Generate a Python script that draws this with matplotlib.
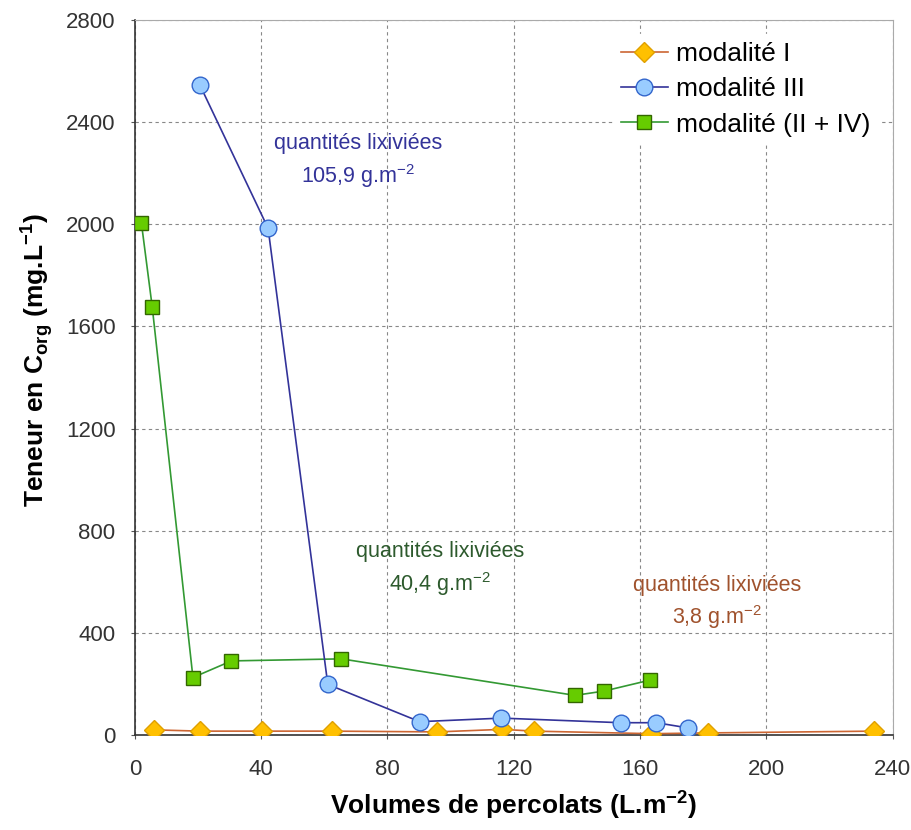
import matplotlib.pyplot as plt

plt.rcParams['font.family'] = ['Liberation Sans', 'DejaVu Sans']

# modalité I
x_mod1 = [6.0, 20.6, 40.4, 62.3, 95.8, 116.4, 126.4, 163.6, 181.4, 234.0]
y_mod1 = [20, 15, 15, 15, 12, 22, 15, 5, 8, 15]

# modalité III
x_mod3 = [20.6, 42.2, 61.1, 90.2, 116.1, 153.8, 165.1, 175.0]
y_mod3 = [2545, 1984, 198, 52, 66, 48, 48, 28]

# modalité (II + IV)
x_mod24 = [2.1, 5.5, 18.4, 30.6, 65.4, 139.4, 148.6, 163.2]
y_mod24 = [2003, 1677, 225, 290, 298, 155, 172, 215]

x_ticks = [0, 40, 80, 120, 160, 200, 240]
y_ticks = [0, 400, 800, 1200, 1600, 2000, 2400, 2800]

fig = plt.figure(figsize=(9.11, 8.3), dpi=100)
ax = fig.add_axes([0.148, 0.1145, 0.832, 0.8615])

ax.plot(x_mod1, y_mod1, color='#cc6633', linewidth=1.2, marker='D', markersize=10,
        markerfacecolor='#ffc000', markeredgecolor='#e0a000', label='modalité I', zorder=3)
ax.plot(x_mod3, y_mod3, color='#333399', linewidth=1.2, marker='o', markersize=12,
        markerfacecolor='#99ccff', markeredgecolor='#3366cc', label='modalité III', zorder=4)
ax.plot(x_mod24, y_mod24, color='#339933', linewidth=1.2, marker='s', markersize=10,
        markerfacecolor='#66cc00', markeredgecolor='#336600', label='modalité (II + IV)', zorder=3)

ax.set_xlim(0, 240)
ax.set_ylim(0, 2800)
ax.set_xticks(x_ticks)
ax.set_yticks(y_ticks)
ax.tick_params(axis='both', labelsize=16, labelcolor='#333333', direction='out', length=3, color='#555555')
ax.tick_params(axis='x', pad=14)
ax.tick_params(axis='y', pad=11)
ax.grid(True, color='#888888', linestyle=(0, (3, 3)), linewidth=0.8)
ax.set_axisbelow(True)

for side in ['top', 'right']:
    ax.spines[side].set_color('#aaaaaa')
for side in ['left', 'bottom']:
    ax.spines[side].set_color('#333333')
    ax.spines[side].set_linewidth(1.2)

ax.set_xlabel('Volumes de percolats (L.m$^{\\mathregular{-2}}$)', fontsize=19, fontweight='bold', labelpad=6)
ax.set_ylabel('Teneur en C$_{\\mathregular{org}}$ (mg.L$^{\\mathregular{-1}}$)', fontsize=19, fontweight='bold')
ax.yaxis.set_label_coords(-0.105, 0.524)

ax.text(70.6, 2246, 'quantités lixiviées\n105,9 g.m$^{\\mathregular{-2}}$', color='#333399',
        fontsize=15.5, ha='center', va='center', linespacing=1.35)
ax.text(96.6, 648, 'quantités lixiviées\n40,4 g.m$^{\\mathregular{-2}}$', color='#2d5a2d',
        fontsize=15.5, ha='center', va='center', linespacing=1.35)
ax.text(184.3, 518, 'quantités lixiviées\n3,8 g.m$^{\\mathregular{-2}}$', color='#a0522d',
        fontsize=15.5, ha='center', va='center', linespacing=1.35)

leg = ax.legend(loc='upper right', fontsize=19, frameon=True, handlelength=1.8,
                borderaxespad=0.55, labelspacing=0.42, handletextpad=0.3, borderpad=0.3)
leg.get_frame().set_edgecolor('white')
leg.get_frame().set_alpha(1)

fig.savefig('out.png', dpi=100)
